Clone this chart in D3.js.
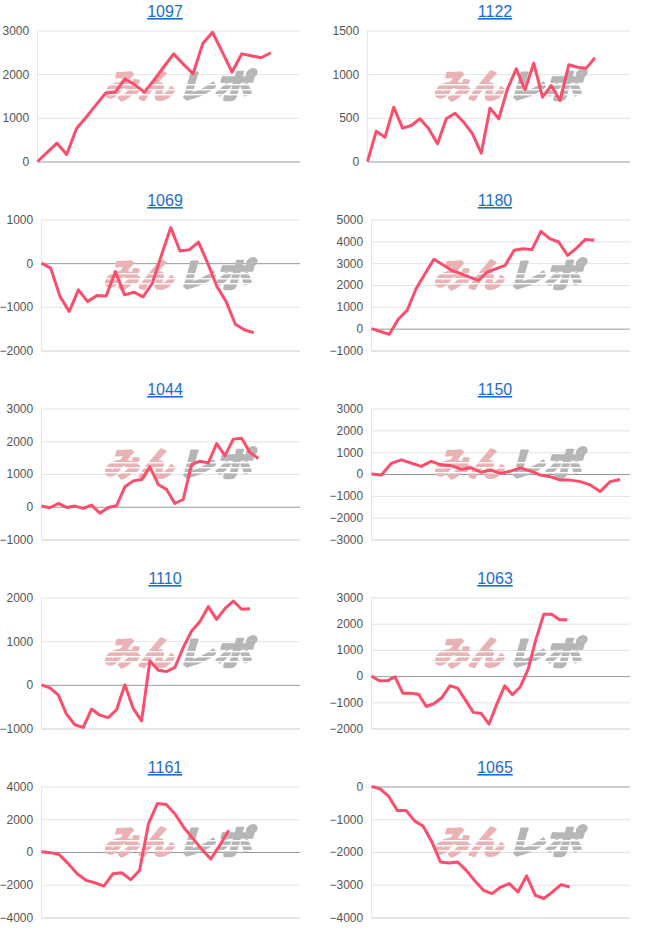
<!DOCTYPE html>
<html><head><meta charset="utf-8">
<script src="https://cdn.jsdelivr.net/npm/d3@7"></script>
<style>body{margin:0;background:#fff}svg{display:block}</style>
</head><body>
<svg id="c" width="660" height="945"></svg>
<script>
// ---- data ----
const machines = ["1097","1122","1069","1180","1044","1150","1110","1063","1161","1065"];
const s1097 = [0,210,420,160,750,1015,1290,1565,1590,1890,1760,1590,1870,2170,2465,2230,2010,2700,2960,2510,2045,2465,2420,2375,2490];
const s1122 = [0,347,279,622,382,412,489,374,202,489,553,450,317,95,611,489,832,1061,821,1126,737,870,698,1107,1080,1069,1187];
const s1069 = [0,-115,-760,-1105,-610,-880,-740,-750,-190,-725,-665,-770,-460,190,815,280,305,480,0,-535,-880,-1400,-1530,-1590];
const s1180 = [0,-130,-260,430,840,1830,2520,3180,2930,2670,2520,2365,2215,2595,2750,2900,3590,3660,3620,4460,4120,3970,3360,3690,4090,4045];
const s1044 = [20,-30,100,-20,20,-50,50,-200,-20,30,610,790,830,1220,680,530,100,230,1290,1390,1340,1930,1560,2065,2090,1660,1475];
const s1150 = [0,-50,490,650,500,350,580,420,380,220,290,80,180,30,130,280,130,-50,-130,-280,-280,-350,-500,-800,-350,-250];
const s1110 = [0,-70,-230,-670,-915,-975,-555,-695,-750,-570,0,-540,-825,550,335,305,400,855,1235,1450,1790,1500,1745,1920,1730,1745];
const s1063 = [0,-180,-180,-25,-650,-650,-690,-1160,-1045,-815,-370,-460,-915,-1385,-1425,-1830,-1070,-370,-710,-405,265,1410,2365,2365,2150,2150];
const s1161 = [20,-40,-160,-710,-1330,-1730,-1880,-2080,-1330,-1270,-1690,-1125,1730,2960,2900,2305,1470,815,145,-430,410,1330];
const s1065 = [0,-70,-305,-730,-730,-1050,-1215,-1690,-2305,-2335,-2305,-2560,-2885,-3170,-3270,-3070,-2965,-3220,-2730,-3320,-3420,-3220,-2995,-3070];
const series = [s1097,s1122,s1069,s1180,s1044,s1150,s1110,s1063,s1161,s1065];
// number of day slots on each hidden x axis
const daySpan = [27,30,28,29,31,26,31,33,29,30];
// y-axis tick labels
const t1097 = [0,1000,2000,3000];
const t1122 = [0,500,1000,1500];
const t1069 = [-2000,-1000,0,1000];
const t1180 = [-1000,0,1000,2000,3000,4000,5000];
const t1044 = [-1000,0,1000,2000,3000];
const t1150 = [-3000,-2000,-1000,0,1000,2000,3000];
const t1110 = [-1000,0,1000,2000];
const t1063 = [-2000,-1000,0,1000,2000,3000];
const t1161 = [-4000,-2000,0,2000,4000];
const t1065 = [-4000,-3000,-2000,-1000,0];
const ticks = [t1097,t1122,t1069,t1180,t1044,t1150,t1110,t1063,t1161,t1065];

// ---- drawing ----
const svg = d3.select("#c");
const PW = 330, PH = 189, RIGHT = 300, TOP = 30.5, BOTTOM = 161.5;
const FONT = "Arial, 'Liberation Sans', sans-serif";

// watermark speed-stripe mask (coordinates relative to the logo baseline)
const defs = svg.append("defs");
const mask = defs.append("mask").attr("id","wm").attr("maskUnits","userSpaceOnUse")
  .attr("x",-10).attr("y",-40).attr("width",200).attr("height",55);
mask.append("rect").attr("x",-10).attr("y",-40).attr("width",200).attr("height",55).attr("fill","#fff");
[-14,-9,-4].forEach(yy=>mask.append("rect").attr("x",-10).attr("y",yy).attr("width",200).attr("height",1.4).attr("fill","#000"));

const measure = svg.append("text").attr("font-family",FONT).attr("font-size",12).attr("visibility","hidden");
function textW(s){ measure.text(s); return measure.node().getComputedTextLength(); }

machines.forEach((name,i)=>{
  const col = i%2, row = Math.floor(i/2);
  const g = svg.append("g").attr("transform",`translate(${col*PW},${row*PH})`);
  const tv = ticks[i];
  const maxW = d3.max(tv, v=>textW(String(v)));
  const left = Math.round(maxW + 10.6) + 0.5;
  const pad = Math.min(9.6, left - maxW - 2.5);

  const x = d3.scaleLinear().domain([0, daySpan[i]]).range([left, RIGHT]);
  const y = d3.scaleLinear().domain(d3.extent(tv)).range([BOTTOM, TOP]);

  // title (link)
  g.append("text").attr("x",165).attr("y",17).attr("text-anchor","middle")
    .attr("font-family",FONT).attr("font-size",16).attr("fill","#1a6dd0")
    .attr("text-decoration","underline").text(name);

  // vertical left line
  g.append("line").attr("x1",left).attr("x2",left).attr("y1",TOP).attr("y2",BOTTOM)
    .attr("stroke","#e6e6e6");

  // y axis with gridlines
  const ax = g.append("g").attr("transform",`translate(${left},0)`)
    .call(d3.axisLeft(y).tickValues(tv).tickSize(-(RIGHT-left)).tickPadding(pad).tickFormat(d3.format("d")));
  ax.select(".domain").remove();
  ax.selectAll(".tick line").attr("stroke", d=> d===0 ? "#9a9a9a" : (d===tv[0] ? "#cccccc" : "#e3e3e3"));
  ax.selectAll(".tick text").attr("font-family",FONT).attr("font-size",12).attr("fill","#555");
  ax.selectAll(".tick").filter(d=>d===0).raise();

  // watermark logo
  const wm = g.append("g").attr("transform","translate(103,98)").attr("mask","url(#wm)");
  const sk = wm.append("g").attr("transform","skewX(-16)");
  sk.append("text").attr("x",0).attr("y",0)
    .attr("font-family","'Noto Sans CJK JP'").attr("font-weight",700).attr("font-size",33)
    .attr("fill","#e9b3b6").attr("stroke","#e9b3b6").attr("stroke-width",2.6).attr("stroke-linejoin","round")
    .attr("textLength",70).attr("lengthAdjust","spacingAndGlyphs").text("みん");
  sk.append("text").attr("x",74).attr("y",0)
    .attr("font-family","'Noto Sans CJK JP'").attr("font-weight",700).attr("font-size",33)
    .attr("fill","#b6b6b6").attr("stroke","#b6b6b6").attr("stroke-width",2.6).attr("stroke-linejoin","round")
    .attr("textLength",74).attr("lengthAdjust","spacingAndGlyphs").text("レポ");

  // series line
  const line = d3.line().x((d,j)=>x(j)).y(d=>y(d));
  g.append("path").datum(series[i]).attr("d",line).attr("fill","none")
    .attr("stroke","#fd4d6b").attr("stroke-width",3).attr("stroke-linejoin","round");
});
measure.remove();
</script>
</body></html>
